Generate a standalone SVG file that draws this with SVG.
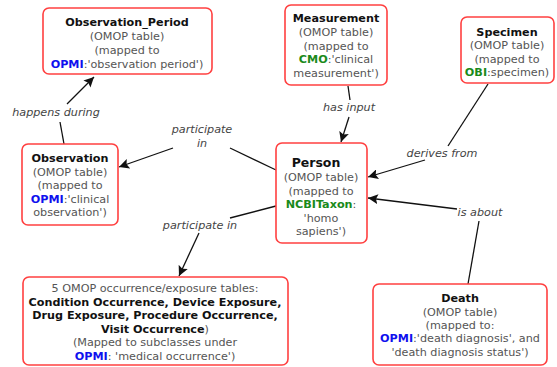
<svg xmlns="http://www.w3.org/2000/svg" width="557" height="367" viewBox="0 0 557 367">
<defs>
<marker id="arr" viewBox="0 0 10 10" refX="10" refY="5" markerWidth="10" markerHeight="10" markerUnits="userSpaceOnUse" orient="auto">
<path d="M0,0 L10,5 L0,10 L2,5 Z" fill="#111"/>
</marker>
</defs>
<style>
.box{fill:#fff;stroke:#ff4040;stroke-width:1.6}
text{font-family:"DejaVu Sans",Verdana,sans-serif;font-size:11.2px;fill:#555;text-anchor:middle}
.t{font-weight:bold;fill:#111}
.b{fill:#1010ee;font-weight:bold}
.g{fill:#1a8a1a;font-weight:bold}
.k{fill:#111;font-weight:bold}
.lbl{font-style:italic;fill:#444}
.ln{stroke:#111;stroke-width:1.3;fill:none}
</style>
<rect width="557" height="367" fill="#fff"/>
<g id="connectors">
<path class="ln" d="M64,144 L60,122"/>
<path class="ln" d="M67,104 L94,77" marker-end="url(#arr)"/>
<text class="lbl" x="56" y="116">happens during</text>
<path class="ln" d="M276,170 L230,148"/>
<path class="ln" d="M173,148 L119,167" marker-end="url(#arr)"/>
<text class="lbl" x="202" y="133">participate</text>
<text class="lbl" x="202" y="147">in</text>
<path class="ln" d="M276,206 L230,218"/>
<path class="ln" d="M199,233 L179,276" marker-end="url(#arr)"/>
<text class="lbl" x="200" y="229">participate in</text>
<path class="ln" d="M348,86 L350,100"/>
<path class="ln" d="M349,117 L341,142" marker-end="url(#arr)"/>
<text class="lbl" x="349" y="111">has input</text>
<path class="ln" d="M488,84 L448,146"/>
<path class="ln" d="M425,160 L368,177" marker-end="url(#arr)"/>
<text class="lbl" x="442" y="157">derives from</text>
<path class="ln" d="M468,284 L479,221"/>
<path class="ln" d="M457,209 L368,198" marker-end="url(#arr)"/>
<text class="lbl" x="480" y="216">is about</text>
</g>
<g id="observation_period">
<rect class="box" x="43" y="8" width="169" height="66" rx="6"/>
<text class="t" x="127" y="26">Observation_Period</text>
<text x="127" y="40">(OMOP table)</text>
<text x="127" y="54">(mapped to</text>
<text x="127" y="68"><tspan class="b">OPMI</tspan>:'observation period')</text>
</g>
<g id="measurement">
<rect class="box" x="285" y="5" width="102" height="80" rx="6"/>
<text class="t" x="336" y="22">Measurement</text>
<text x="336" y="36">(OMOP table)</text>
<text x="336" y="50">(mapped to</text>
<text x="336" y="63"><tspan class="g">CMO</tspan>:'clinical</text>
<text x="336" y="77">measurement')</text>
</g>
<g id="specimen">
<rect class="box" x="461" y="17" width="93" height="66" rx="6"/>
<text class="t" x="507" y="36">Specimen</text>
<text x="507" y="49">(OMOP table)</text>
<text x="507" y="63">(mapped to</text>
<text x="507" y="76"><tspan class="g">OBI</tspan>:specimen)</text>
</g>
<g id="observation">
<rect class="box" x="22" y="144" width="96" height="81" rx="6"/>
<text class="t" x="70" y="162">Observation</text>
<text x="70" y="176">(OMOP table)</text>
<text x="70" y="189">(mapped to</text>
<text x="70" y="203"><tspan class="b">OPMI</tspan>:'clinical</text>
<text x="70" y="216">observation')</text>
</g>
<g id="person">
<rect class="box" x="276" y="143" width="91" height="100" rx="6"/>
<text class="t" x="316" y="167" style="font-size:12.5px">Person</text>
<text x="321" y="181">(OMOP table)</text>
<text x="321" y="195">(mapped to</text>
<text x="321" y="208"><tspan class="g">NCBITaxon</tspan>:</text>
<text x="321" y="222">'homo</text>
<text x="321" y="235">sapiens')</text>
</g>
<g id="occurrence">
<rect class="box" x="23" y="277" width="265" height="88" rx="6"/>
<text x="155" y="292">5 OMOP occurrence/exposure tables:</text>
<text class="k" x="155" y="306">Condition Occurrence, Device Exposure,</text>
<text class="k" x="155" y="319">Drug Exposure, Procedure Occurrence,</text>
<text x="155" y="333"><tspan class="k">Visit Occurrence</tspan>)</text>
<text x="155" y="346">(Mapped to subclasses under</text>
<text x="155" y="360"><tspan class="b">OPMI</tspan>: 'medical occurrence')</text>
</g>
<g id="death">
<rect class="box" x="373" y="284" width="174" height="81" rx="6"/>
<text class="t" x="460" y="302">Death</text>
<text x="460" y="316">(OMOP table)</text>
<text x="460" y="329">(mapped to:</text>
<text x="460" y="342"><tspan class="b">OPMI</tspan>:'death diagnosis', and</text>
<text x="460" y="356">'death diagnosis status')</text>
</g>
</svg>
